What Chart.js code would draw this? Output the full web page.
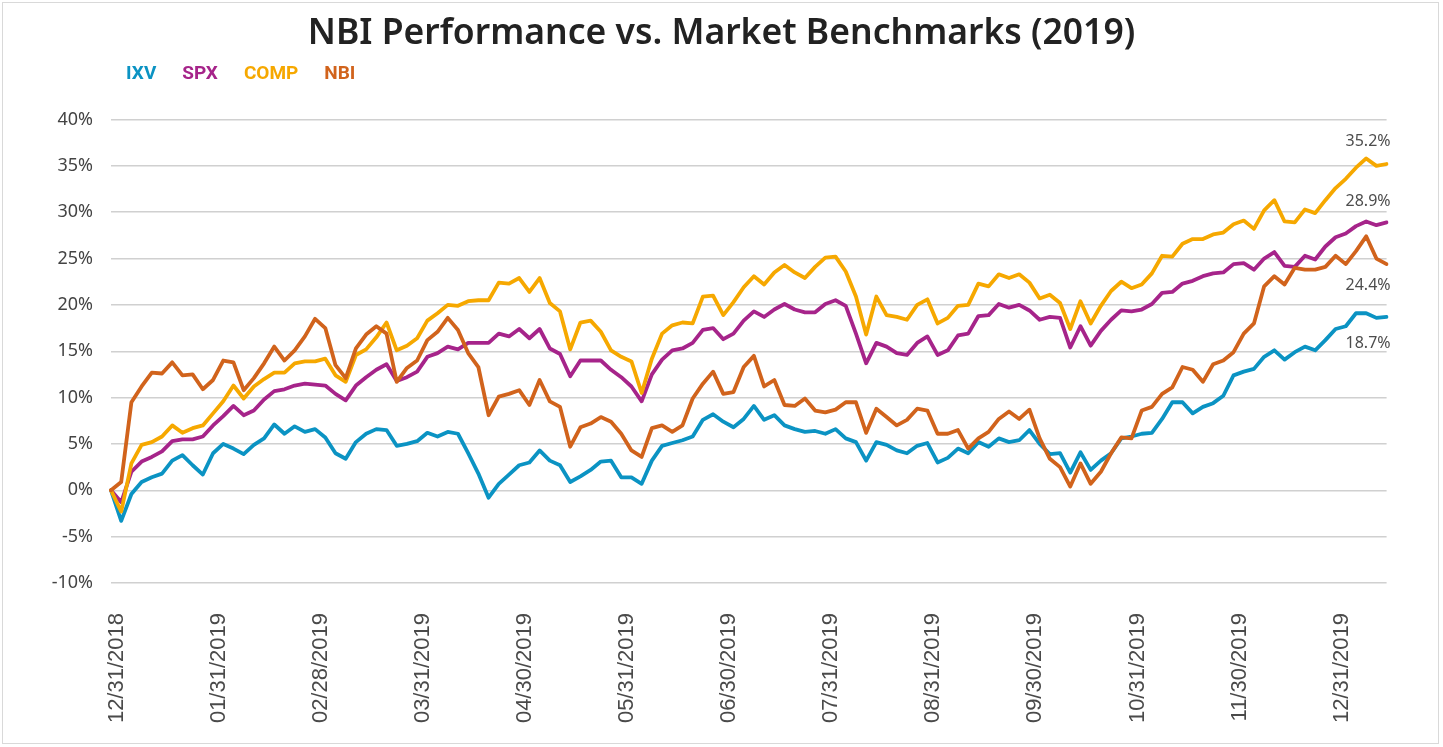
<!DOCTYPE html>
<html>
<head>
<meta charset="utf-8">
<script src="https://cdn.jsdelivr.net/npm/chart.js@4.4.1/dist/chart.umd.min.js"></script>
<style>
  html, body { margin: 0; padding: 0; background: #ffffff; }
  #wrap { position: relative; width: 1443px; height: 747px; }
  #frame { position: absolute; left: 2px; top: 2px; width: 1437px; height: 742px; box-sizing: border-box; border: 1px solid #d9d9d9; pointer-events: none; }
</style>
</head>
<body>
<div id="wrap">
  <canvas id="c" width="1443" height="747"></canvas>
  <div id="frame"></div>
</div>
<script>
// ---- Data (cumulative % return, 2019) ----
const tickLabels = ['12/31/2018', '01/31/2019', '02/28/2019', '03/31/2019', '04/30/2019', '05/31/2019',
  '06/30/2019', '07/31/2019', '08/31/2019', '09/30/2019', '10/31/2019', '11/30/2019', '12/31/2019'];
const pointsPerTick = 10;

const seriesNames = ['IXV', 'SPX', 'COMP', 'NBI'];

const ixv = [0, -3.3, -0.4, 0.9, 1.4, 1.8, 3.2, 3.8, 2.7, 1.7,
  4.0, 5.0, 4.5, 3.9, 4.9, 5.6, 7.1, 6.1, 6.9, 6.3,
  6.6, 5.7, 4.0, 3.4, 5.2, 6.1, 6.6, 6.5, 4.8, 5.0,
  5.3, 6.2, 5.8, 6.3, 6.1, 4.0, 1.8, -0.8, 0.7, 1.7,
  2.7, 3.0, 4.3, 3.2, 2.7, 0.9, 1.5, 2.2, 3.1, 3.2,
  1.4, 1.4, 0.7, 3.2, 4.8, 5.1, 5.4, 5.8, 7.6, 8.2,
  7.4, 6.8, 7.7, 9.1, 7.6, 8.1, 7.0, 6.6, 6.3, 6.4,
  6.1, 6.6, 5.6, 5.2, 3.2, 5.2, 4.9, 4.3, 4.0, 4.8,
  5.1, 3.0, 3.5, 4.5, 4.0, 5.2, 4.7, 5.6, 5.2, 5.4,
  6.5, 5.0, 3.9, 4.0, 1.9, 4.1, 2.2, 3.2, 4.0, 5.6,
  5.8, 6.1, 6.2, 7.7, 9.5, 9.5, 8.3, 9.0, 9.4, 10.2,
  12.4, 12.8, 13.1, 14.4, 15.1, 14.1, 14.9, 15.5, 15.1, 16.2,
  17.4, 17.7, 19.1, 19.1, 18.6, 18.7];

const spx = [0, -1.3, 2.0, 3.1, 3.6, 4.2, 5.3, 5.5, 5.5, 5.8,
  7.0, 8.0, 9.1, 8.1, 8.6, 9.8, 10.7, 10.9, 11.3, 11.5,
  11.4, 11.3, 10.4, 9.7, 11.3, 12.2, 13.0, 13.6, 11.8, 12.2,
  12.8, 14.4, 14.8, 15.5, 15.2, 15.9, 15.9, 15.9, 16.9, 16.6,
  17.4, 16.4, 17.4, 15.3, 14.7, 12.3, 14.0, 14.0, 14.0, 13.0,
  12.2, 11.2, 9.6, 12.5, 14.1, 15.1, 15.3, 15.9, 17.3, 17.5,
  16.3, 16.9, 18.3, 19.3, 18.7, 19.5, 20.1, 19.5, 19.2, 19.2,
  20.1, 20.5, 19.9, 16.9, 13.7, 15.9, 15.5, 14.8, 14.6, 15.9,
  16.6, 14.6, 15.1, 16.7, 16.9, 18.8, 18.9, 20.1, 19.7, 20.0,
  19.4, 18.4, 18.7, 18.6, 15.4, 17.7, 15.6, 17.2, 18.4, 19.4,
  19.3, 19.5, 20.1, 21.3, 21.4, 22.3, 22.6, 23.1, 23.4, 23.5,
  24.4, 24.5, 23.8, 25.0, 25.7, 24.2, 24.1, 25.3, 24.9, 26.3,
  27.3, 27.7, 28.5, 29.0, 28.6, 28.9];

const comp = [0, -2.3, 2.9, 4.9, 5.2, 5.8, 7.0, 6.2, 6.7, 7.0,
  8.3, 9.6, 11.3, 9.9, 11.2, 12.0, 12.7, 12.7, 13.7, 13.9,
  13.9, 14.2, 12.4, 11.7, 14.6, 15.2, 16.5, 18.1, 15.1, 15.6,
  16.4, 18.3, 19.1, 20.0, 19.9, 20.4, 20.5, 20.5, 22.4, 22.3,
  22.9, 21.4, 22.9, 20.2, 19.3, 15.2, 18.1, 18.3, 17.1, 15.1,
  14.4, 13.9, 10.5, 14.2, 16.9, 17.8, 18.1, 18.0, 20.9, 21.0,
  18.9, 20.3, 21.9, 23.1, 22.2, 23.5, 24.3, 23.5, 22.9, 24.1,
  25.1, 25.2, 23.6, 20.9, 16.8, 20.9, 18.9, 18.7, 18.4, 20.0,
  20.6, 18.0, 18.6, 19.9, 20.0, 22.3, 22.0, 23.3, 22.9, 23.3,
  22.4, 20.7, 21.1, 20.2, 17.4, 20.4, 18.0, 19.9, 21.5, 22.5,
  21.8, 22.2, 23.4, 25.3, 25.2, 26.6, 27.1, 27.1, 27.6, 27.8,
  28.7, 29.1, 28.2, 30.2, 31.3, 29.0, 28.9, 30.3, 29.9, 31.3,
  32.6, 33.6, 34.8, 35.8, 35.0, 35.2];

const nbi = [0, 0.9, 9.5, 11.2, 12.7, 12.6, 13.8, 12.4, 12.5, 10.9,
  11.9, 14.0, 13.8, 10.8, 12.1, 13.7, 15.5, 14.0, 15.1, 16.6,
  18.5, 17.5, 13.5, 12.1, 15.3, 16.8, 17.7, 16.9, 11.7, 13.2,
  14.0, 16.2, 17.1, 18.6, 17.3, 14.8, 13.3, 8.1, 10.1, 10.4,
  10.8, 9.2, 11.9, 9.6, 9.0, 4.7, 6.8, 7.2, 7.9, 7.4,
  6.1, 4.3, 3.6, 6.7, 7.0, 6.3, 7.0, 9.9, 11.5, 12.8,
  10.4, 10.6, 13.3, 14.5, 11.2, 11.9, 9.2, 9.1, 9.9, 8.6,
  8.4, 8.7, 9.5, 9.5, 6.2, 8.8, 7.9, 7.0, 7.6, 8.8,
  8.6, 6.1, 6.1, 6.5, 4.5, 5.6, 6.3, 7.7, 8.5, 7.7,
  8.7, 5.6, 3.4, 2.5, 0.4, 2.9, 0.7, 2.0, 4.0, 5.7,
  5.6, 8.6, 9.0, 10.4, 11.1, 13.3, 13.0, 11.7, 13.6, 14.0,
  14.9, 16.9, 18.0, 22.0, 23.1, 22.2, 24.0, 23.8, 23.8, 24.1,
  25.3, 24.4, 25.8, 27.4, 25.0, 24.4];

const yTicksMin = -10, yTicksMax = 40, yTicksStep = 5;

// ---- Styles ----
const seriesColors = ['#0b93c3', '#a6248a', '#f6a800', '#d1631c'];
const seriesDrawOrder = [3, 2, 1, 0];          // NBI drawn on top
const endLabelDy = [26, -21, -23, 21];         // label offset from last point (px)

const categories = ixv.map((_, i) => (i % pointsPerTick === 0 && tickLabels[i / pointsPerTick]) ? tickLabels[i / pointsPerTick] : '');
const seriesValues = [ixv, spx, comp, nbi];

// Title centred on the full canvas, legend started at the left edge of the plot
const headerPlacement = {
  id: 'headerPlacement',
  afterLayout(chart) {
    if (chart.titleBlock) { chart.titleBlock.left = 0; chart.titleBlock.right = chart.width; }
    if (chart.legend) { chart.legend.left = 100; }
  }
};

const endLabels = {
  id: 'endLabels',
  afterDatasetsDraw(chart) {
    const ctx = chart.ctx;
    ctx.save();
    ctx.font = '16px "Noto Sans"';
    ctx.fillStyle = '#4d4d4d';
    ctx.textAlign = 'right';
    ctx.textBaseline = 'middle';
    chart.data.datasets.forEach((ds, i) => {
      const meta = chart.getDatasetMeta(i);
      const pt = meta.data[meta.data.length - 1];
      const v = ds.data[ds.data.length - 1];
      ctx.fillText(v.toFixed(1) + '%', pt.x + 4, pt.y + endLabelDy[i]);
    });
    ctx.restore();
  }
};

new Chart(document.getElementById('c'), {
  type: 'line',
  data: {
    labels: categories,
    datasets: seriesNames.map((name, i) => ({
      label: name,
      data: seriesValues[i],
      borderColor: seriesColors[i],
      backgroundColor: seriesColors[i],
      borderWidth: 3.8,
      pointRadius: 0,
      pointHoverRadius: 0,
      tension: 0,
      borderJoinStyle: 'round',
      borderCapStyle: 'round',
      fill: false,
      order: seriesDrawOrder[i]
    }))
  },
  options: {
    responsive: false,
    devicePixelRatio: 1,
    animation: false,
    events: [],
    layout: { padding: { left: 0, right: 34, top: 0, bottom: 0 } },
    plugins: {
      title: {
        display: true,
        text: 'NBI Performance vs. Market Benchmarks (2019)',
        color: '#222222',
        font: { family: '"Noto Sans", sans-serif', size: 35.5, weight: '600', lineHeight: 1 },
        padding: { top: 16, bottom: 9 }
      },
      legend: {
        display: true,
        position: 'top',
        align: 'start',
        labels: {
          boxWidth: 12.5,
          boxHeight: 19,
          padding: 4,
          font: { family: 'Roboto, sans-serif', size: 19, weight: 'bold', lineHeight: 1 },
          generateLabels(chart) {
            return chart.data.datasets.map((ds, i) => ({
              text: ds.label,
              fontColor: ds.borderColor,
              fillStyle: 'rgba(0,0,0,0)',
              strokeStyle: 'rgba(0,0,0,0)',
              lineWidth: 0,
              hidden: false,
              datasetIndex: i
            }));
          }
        }
      },
      subtitle: {
        display: true,
        text: ' ',
        weight: 500,
        font: { size: 10, lineHeight: 1 },
        padding: { top: 16, bottom: 0 }
      },
      tooltip: { enabled: false }
    },
    scales: {
      x: {
        type: 'category',
        offset: false,
        grid: { display: false, drawTicks: false },
        border: { display: false },
        ticks: {
          autoSkip: false,
          minRotation: 90,
          maxRotation: 90,
          padding: 30,
          labelOffset: 6,
          color: '#4a4a4a',
          font: { family: '"Liberation Sans", Arial, sans-serif', size: 22 }
        },
        afterFit(scale) { scale.height = 164; }
      },
      y: {
        min: yTicksMin,
        max: yTicksMax,
        grid: { color: '#d0d0d0', lineWidth: 1.5, drawTicks: false },
        border: { display: false },
        ticks: {
          stepSize: yTicksStep,
          padding: 18,
          color: '#444444',
          font: { family: '"Noto Sans", sans-serif', size: 18 },
          callback: (v) => v + '%'
        },
        afterFit(scale) { scale.width = 111; }
      }
    }
  },
  plugins: [headerPlacement, endLabels]
});
</script>
</body>
</html>
